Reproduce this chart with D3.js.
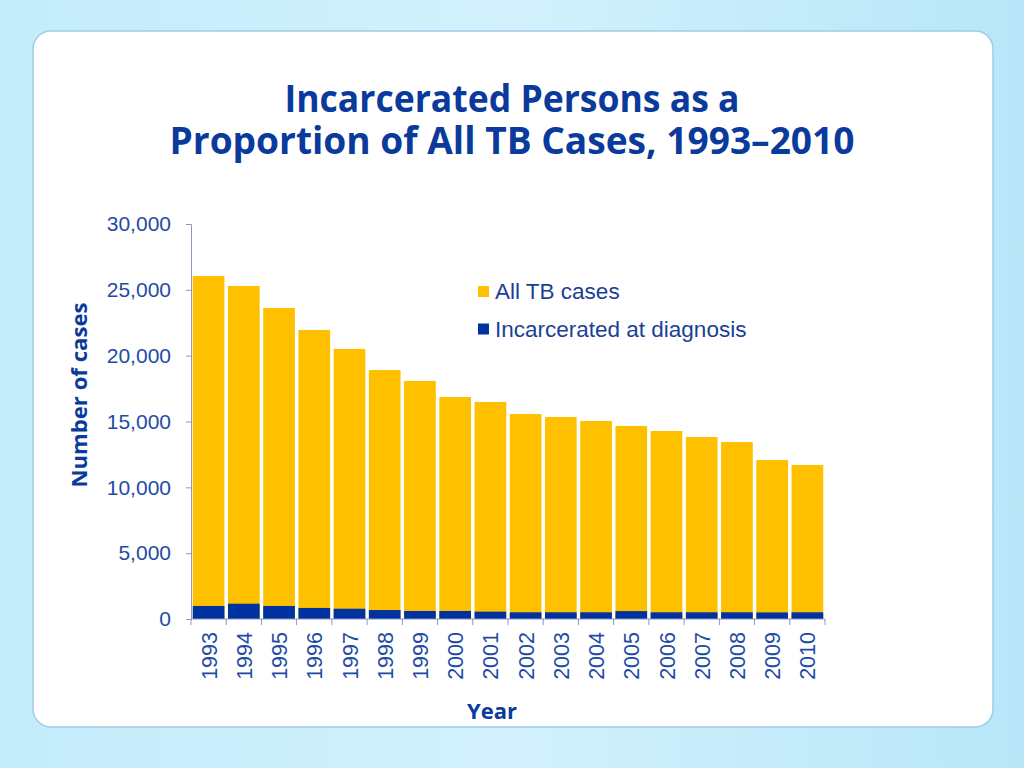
<!DOCTYPE html>
<html>
<head>
<meta charset="utf-8">
<script src="https://cdn.jsdelivr.net/npm/d3@7/dist/d3.min.js"></script>
<style>
  body { margin: 0; padding: 0; background: #c8eefb; }
  svg { display: block; }
</style>
</head>
<body>
<div id="canvas"></div>
<script>
// data
const years = ["1993","1994","1995","1996","1997","1998","1999","2000","2001",
               "2002","2003","2004","2005","2006","2007","2008","2009","2010"];
const allCases = [26050, 25290, 23620, 21950, 20510, 18910, 18080, 16860, 16480,
                  15570, 15340, 15040, 14660, 14280, 13820, 13440, 12080, 11700];
const incarcerated = [990, 1160, 990, 840, 780, 680, 610, 610, 560,
                      510, 510, 510, 600, 510, 510, 510, 500, 510];
const yTicks = [0, 5000, 10000, 15000, 20000, 25000, 30000];
const seriesNames = ["All TB cases", "Incarcerated at diagnosis"];
const seriesColors = ["#ffc000", "#0033a0"];

const width = 1024;
const height = 768;
const margin = { top: 224, left: 191, bottom: 149, right: 199 };
const iwidth = width - margin.left - margin.right;
const iheight = height - margin.top - margin.bottom;

const svg = d3.select("#canvas").append("svg")
    .attr("width", width)
    .attr("height", height);

// background
const defs = svg.append("defs");
const grad = defs.append("linearGradient").attr("id", "bg")
    .attr("x1", 0).attr("y1", 0).attr("x2", 1).attr("y2", 0);
grad.append("stop").attr("offset", "0%").attr("stop-color", "#c4ecfb");
grad.append("stop").attr("offset", "50%").attr("stop-color", "#d2f1fc");
grad.append("stop").attr("offset", "100%").attr("stop-color", "#b8e6f8");
svg.append("rect").attr("width", width).attr("height", height).attr("fill", "url(#bg)");

svg.append("rect")
    .attr("x", 33).attr("y", 31)
    .attr("width", 960).attr("height", 696)
    .attr("rx", 18)
    .attr("fill", "#ffffff")
    .attr("stroke", "#9ccde8")
    .attr("stroke-width", 1.5);

// title
const title = svg.append("text")
    .attr("text-anchor", "middle")
    .attr("fill", "#0a3a9c")
    .style("font-family", "'Open Sans', sans-serif")
    .style("font-weight", "bold")
    .style("font-size", "37px");
title.append("tspan").attr("x", 512).attr("y", 112)
    .attr("textLength", 455).attr("lengthAdjust", "spacingAndGlyphs")
    .text("Incarcerated Persons as a");
title.append("tspan").attr("x", 512).attr("y", 154)
    .attr("textLength", 685).attr("lengthAdjust", "spacingAndGlyphs")
    .text("Proportion of All TB Cases, 1993\u20132010");

const g = svg.append("g").attr("transform", `translate(${margin.left},${margin.top})`);

const y = d3.scaleLinear()
    .domain([0, 30000])
    .range([iheight, 0]);

const x = d3.scaleBand()
    .domain(years)
    .range([0, iwidth])
    .paddingInner(0.1)
    .paddingOuter(0.05);

// all cases bars
g.selectAll("rect.all").data(years).enter().append("rect")
    .attr("class", "all")
    .style("fill", seriesColors[0])
    .attr("x", d => x(d))
    .attr("y", (d, i) => y(allCases[i]))
    .attr("height", (d, i) => iheight - y(allCases[i]))
    .attr("width", x.bandwidth());

// incarcerated bars (drawn from the base, in front)
g.selectAll("rect.inc").data(years).enter().append("rect")
    .attr("class", "inc")
    .style("fill", seriesColors[1])
    .attr("x", d => x(d))
    .attr("y", (d, i) => y(incarcerated[i]))
    .attr("height", (d, i) => iheight - y(incarcerated[i]))
    .attr("width", x.bandwidth());

const axisColor = "#8f93c8";
const labelColor = "#1f4ba5";

// y axis
const yAxis = g.append("g")
    .classed("y--axis", true)
    .call(d3.axisLeft(y).tickValues(yTicks).tickSize(5).tickPadding(15).tickFormat(d3.format(",")));
yAxis.select(".domain").attr("stroke", axisColor);
yAxis.selectAll(".tick line").attr("stroke", axisColor);
yAxis.selectAll(".tick text")
    .attr("fill", labelColor)
    .style("font-family", "'Liberation Sans', Arial, sans-serif")
    .style("font-size", "21px");

// x axis: ticks at band boundaries
const step = x.step();
const start = x(years[0]) - step * x.paddingInner() / 2;
const bounds = d3.range(years.length + 1);
const xAxis = g.append("g")
    .classed("x--axis", true)
    .attr("transform", `translate(0, ${iheight})`);
xAxis.append("line")
    .attr("x1", 0).attr("x2", iwidth)
    .attr("stroke", axisColor);
xAxis.selectAll("line.tk").data(bounds).enter().append("line")
    .attr("class", "tk")
    .attr("x1", d => d === years.length ? iwidth : start + d * step)
    .attr("x2", d => d === years.length ? iwidth : start + d * step)
    .attr("y1", 0).attr("y2", 6)
    .attr("stroke", axisColor);
xAxis.selectAll("text").data(years).enter().append("text")
    .attr("transform", d => `translate(${x(d) + x.bandwidth() / 2 + 8}, 13) rotate(-90)`)
    .attr("text-anchor", "end")
    .attr("fill", labelColor)
    .style("font-family", "'Liberation Sans', Arial, sans-serif")
    .style("font-size", "21.5px")
    .text(d => d);

// axis titles
svg.append("text")
    .attr("transform", "translate(87, 395) rotate(-90)")
    .attr("text-anchor", "middle")
    .attr("fill", "#0a3a9c")
    .style("font-family", "'Open Sans', sans-serif")
    .style("font-weight", "bold")
    .style("font-size", "22px")
    .attr("textLength", 185).attr("lengthAdjust", "spacingAndGlyphs")
    .text("Number of cases");

svg.append("text")
    .attr("x", 492).attr("y", 719)
    .attr("text-anchor", "middle")
    .attr("fill", "#0a3a9c")
    .style("font-family", "'Open Sans', sans-serif")
    .style("font-weight", "bold")
    .style("font-size", "22px")
    .attr("textLength", 50).attr("lengthAdjust", "spacingAndGlyphs")
    .text("Year");

// legend
const legend = svg.append("g").attr("transform", "translate(478, 286)");
seriesNames.forEach((name, i) => {
    const row = legend.append("g").attr("transform", `translate(0, ${i * 37.5})`);
    row.append("rect").attr("width", 11).attr("height", 11).attr("fill", seriesColors[i]);
    row.append("text")
        .attr("x", 17).attr("y", 13)
        .attr("fill", "#1a3f96")
        .style("font-family", "'Liberation Sans', Arial, sans-serif")
        .style("font-size", "22.5px")
        .text(name);
});
</script>
</body>
</html>
